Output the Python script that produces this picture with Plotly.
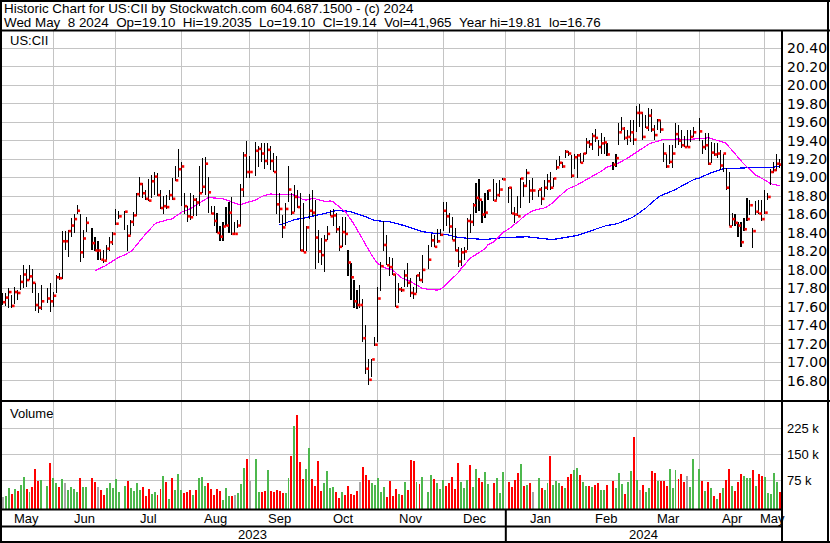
import plotly.graph_objects as go
import pandas as pd

# ------------------------------------------------------------------ data
FIRST_DAY, LAST_DAY = "2023-05-09", "2024-05-08"
HOLIDAYS = ["2023-05-29", "2023-06-19", "2023-07-04", "2023-09-04", "2023-11-23",
            "2023-12-25", "2024-01-01", "2024-01-15", "2024-02-19", "2024-03-29"]

highs = [
    # May 2023
    17.75, 17.75, 17.80, 17.73, 17.82, 17.78, 17.95, 18.05, 18.01, 18.05, 18.01, 17.86, 17.75, 17.84, 17.80, 17.86,
    # Jun
    17.76, 17.95, 17.97, 18.42, 18.42, 18.43, 18.56, 18.61, 18.70, 18.60, 18.43, 18.57, 18.45, 18.36, 18.31, 18.22,
    18.22, 18.27, 18.36, 18.41, 18.66,
    # Jul
    18.64, 18.64, 18.49, 18.54, 18.63, 18.83, 19.01, 18.94, 18.87, 18.98, 19.03, 19.06, 19.05, 18.87, 18.80, 18.81,
    18.87, 19.00, 19.12, 19.31,
    # Aug
    19.17, 18.83, 18.69, 18.83, 18.81, 18.78, 19.12, 19.21, 19.22, 19.01, 18.69, 18.69, 18.62, 18.47, 18.52, 18.68,
    18.74, 18.79, 18.52, 18.54, 18.93, 19.28, 19.40,
    # Sep
    19.23, 19.38, 19.34, 19.37, 19.37, 19.37, 19.34, 19.27, 19.23, 18.83, 18.59, 18.72, 19.12, 18.83, 18.92, 18.87,
    18.83, 18.72, 18.47, 18.82,
    # Oct
    18.87, 18.76, 18.43, 18.34, 18.38, 18.48, 18.65, 18.66, 18.62, 18.47, 18.57, 18.57, 18.22, 18.07, 17.89, 17.78,
    17.84, 17.69, 17.40, 17.04, 17.04, 17.27,
    # Nov
    17.82, 18.09, 18.53, 18.38, 18.14, 18.13, 17.96, 17.86, 17.82, 18.00, 18.07, 17.91, 17.82, 17.95, 17.98, 18.16,
    18.27, 18.39, 18.38, 18.44, 18.44,
    # Dec
    18.73, 18.73, 18.62, 18.57, 18.45, 18.25, 18.24, 18.25, 18.56, 18.60, 18.72, 18.94, 18.98, 18.75, 18.83, 18.87,
    18.98, 18.94, 18.97, 18.99,
    # Jan 2024
    18.90, 18.90, 18.68, 18.80, 19.00, 18.95, 19.09, 18.97, 18.99, 18.87, 18.90, 18.97, 19.04, 19.06, 18.99, 19.19,
    19.23, 19.17, 19.30, 19.29, 19.24,
    # Feb
    19.25, 19.26, 19.27, 19.27, 19.43, 19.41, 19.48, 19.53, 19.41, 19.48, 19.44, 19.37, 19.17, 19.25, 19.59, 19.66,
    19.55, 19.52, 19.62, 19.62,
    # Mar
    19.77, 19.80, 19.71, 19.68, 19.75, 19.74, 19.57, 19.63, 19.62, 19.37, 19.26, 19.35, 19.35, 19.59, 19.57, 19.51,
    19.45, 19.51, 19.51, 19.55,
    # Apr
    19.65, 19.41, 19.48, 19.48, 19.39, 19.37, 19.37, 19.30, 19.26, 19.10, 19.06, 18.62, 18.60, 18.52, 18.52, 18.56,
    18.78, 18.76, 18.45, 18.75, 18.76, 18.76,
    # May 2024
    18.87, 18.83, 19.09, 19.17, 19.25, 19.2035,
]

lows = [
    17.62, 17.61, 17.59, 17.59, 17.63, 17.67, 17.78, 17.80, 17.81, 17.89, 17.75, 17.55, 17.53, 17.57, 17.64, 17.54,
    17.60, 17.75, 17.89, 17.90, 18.22, 18.14, 18.36, 18.40, 18.60, 18.09, 18.13, 18.41, 18.22, 18.21, 18.11, 18.11,
    18.07, 18.11, 18.20, 18.27, 18.49,
    18.55, 18.43, 18.20, 18.38, 18.47, 18.58, 18.79, 18.78, 18.76, 18.75, 18.78, 18.81, 18.80, 18.66, 18.60, 18.66,
    18.76, 18.76, 18.96, 19.01,
    18.69, 18.60, 18.52, 18.54, 18.58, 18.58, 18.69, 18.83, 18.81, 18.62, 18.60, 18.47, 18.40, 18.31, 18.31, 18.47,
    18.40, 18.38, 18.38, 18.45, 18.47, 18.79, 19.00,
    19.00, 19.02, 19.11, 19.17, 19.09, 19.14, 19.08, 19.06, 18.61, 18.51, 18.35, 18.47, 18.74, 18.59, 18.63, 18.67,
    18.20, 18.19, 18.20, 18.55,
    18.58, 18.01, 18.07, 18.05, 17.98, 18.32, 18.58, 18.47, 18.40, 18.20, 18.25, 18.27, 17.93, 17.67, 17.59, 17.58,
    17.59, 17.22, 16.87, 16.75, 16.84, 17.18,
    17.22, 17.77, 18.20, 18.05, 17.93, 17.95, 17.60, 17.64, 17.76, 17.82, 17.82, 17.71, 17.69, 17.75, 17.88, 17.86,
    18.01, 18.25, 18.25, 18.29, 18.37,
    18.42, 18.47, 18.40, 18.32, 18.21, 18.03, 18.04, 18.11, 18.22, 18.40, 18.47, 18.62, 18.64, 18.51, 18.56, 18.76,
    18.75, 18.76, 18.79, 18.97,
    18.72, 18.61, 18.51, 18.58, 18.67, 18.79, 18.90, 18.72, 18.76, 18.79, 18.70, 18.79, 18.87, 18.87, 18.90, 19.08,
    19.12, 19.10, 19.21, 19.23, 18.99,
    19.09, 18.99, 19.16, 19.17, 19.25, 19.32, 19.30, 19.38, 19.23, 19.25, 19.25, 19.23, 19.08, 19.11, 19.35, 19.50,
    19.41, 19.35, 19.39, 19.35,
    19.49, 19.55, 19.41, 19.54, 19.50, 19.49, 19.41, 19.52, 19.48, 19.17, 19.10, 19.15, 19.10, 19.32, 19.35, 19.32,
    19.33, 19.33, 19.39, 19.44,
    19.40, 19.25, 19.30, 19.14, 19.16, 19.23, 19.21, 19.08, 19.06, 18.86, 18.47, 18.47, 18.48, 18.36, 18.25, 18.42,
    18.53, 18.59, 18.24, 18.59, 18.61, 18.53,
    18.61, 18.76, 18.92, 19.05, 19.07, 19.10,
]

closes = [
    17.65, 17.70, 17.76, 17.61, 17.76, 17.75, 17.87, 17.95, 17.89, 17.93, 17.86, 17.62, 17.59, 17.66, 17.69, 17.66,
    17.72, 17.92, 17.91, 18.31, 18.31, 18.42, 18.48, 18.55, 18.64, 18.19, 18.34, 18.51, 18.29, 18.21, 18.21, 18.11,
    18.10, 18.23, 18.30, 18.39, 18.50,
    18.58, 18.63, 18.37, 18.52, 18.59, 18.82, 18.93, 18.83, 18.77, 18.75, 18.96, 19.01, 18.81, 18.67, 18.69, 18.68,
    18.81, 18.77, 18.97, 19.09,
    19.12, 18.69, 18.58, 18.57, 18.76, 18.73, 18.83, 18.90, 19.15, 18.84, 18.61, 18.53, 18.40, 18.36, 18.47, 18.48,
    18.62, 18.39, 18.39, 18.48, 18.87, 19.24, 19.06,
    19.06, 19.29, 19.31, 19.26, 19.18, 19.30, 19.18, 19.06, 18.71, 18.66, 18.46, 18.66, 18.87, 18.62, 18.79, 18.68,
    18.21, 18.19, 18.46, 18.64,
    18.62, 18.35, 18.20, 18.16, 18.32, 18.39, 18.58, 18.59, 18.44, 18.25, 18.41, 18.39, 18.08, 17.92, 17.66, 17.62,
    17.62, 17.26, 16.93, 16.81, 17.03, 17.19,
    17.69, 18.04, 18.27, 18.05, 18.03, 17.95, 17.60, 17.79, 17.78, 17.94, 17.86, 17.75, 17.74, 17.94, 17.89, 18.00,
    18.11, 18.32, 18.25, 18.31, 18.38,
    18.64, 18.58, 18.47, 18.32, 18.21, 18.09, 18.19, 18.20, 18.53, 18.52, 18.70, 18.78, 18.76, 18.60, 18.62, 18.86,
    18.75, 18.81, 18.87, 18.98,
    18.89, 18.61, 18.60, 18.58, 18.99, 18.91, 19.05, 18.86, 18.86, 18.87, 18.77, 18.89, 18.96, 18.89, 18.99, 19.11,
    19.16, 19.12, 19.28, 19.26, 19.02,
    19.22, 19.24, 19.16, 19.26, 19.38, 19.36, 19.45, 19.43, 19.33, 19.37, 19.38, 19.25, 19.14, 19.21, 19.49, 19.53,
    19.43, 19.44, 19.49, 19.41,
    19.70, 19.70, 19.44, 19.54, 19.67, 19.52, 19.46, 19.62, 19.52, 19.26, 19.12, 19.17, 19.26, 19.47, 19.40, 19.35,
    19.33, 19.33, 19.44, 19.49,
    19.50, 19.33, 19.35, 19.15, 19.27, 19.25, 19.26, 19.13, 19.26, 18.89, 18.47, 18.55, 18.51, 18.48, 18.30, 18.44,
    18.55, 18.70, 18.42, 18.63, 18.61, 18.55,
    18.62, 18.79, 19.06, 19.08, 19.15, 19.14,
]

volumes = [
    # May 2023
    28000, 30000, 53000, 36000, 50000, 45000, 62000, 85000, 50000, 42000, 56000, 108000, 73000, 76000, 59000, 125000,
    # Jun
    82000, 67000, 56000, 79000, 67000, 47000, 56000, 50000, 41000, 82000, 56000, 56000, 82000, 70000, 56000, 47000,
    33000, 53000, 67000, 53000, 79000,
    # Jul
    41000, 59000, 73000, 53000, 44000, 67000, 47000, 56000, 30000, 50000, 36000, 41000, 33000, 50000, 87000, 70000,
    21000, 82000, 47000, 93000,
    # Aug
    47000, 38000, 42000, 47000, 33000, 47000, 82000, 85000, 60000, 67000, 50000, 33000, 50000, 45000, 18000, 53000,
    30000, 30000, 33000, 37000, 64000, 110000, 137000,
    # Sep
    73000, 137000, 41000, 41000, 44000, 105000, 45000, 40000, 47000, 44000, 38000, 38000, 82000, 146000, 232000,
    263000, 129000, 79000, 108000, 168000,
    # Oct
    79000, 59000, 131000, 44000, 67000, 102000, 53000, 56000, 41000, 24000, 41000, 33000, 59000, 36000, 33000, 44000,
    70000, 113000, 90000, 75000, 67000, 62000,
    # Nov
    82000, 41000, 56000, 27000, 73000, 30000, 50000, 36000, 33000, 70000, 47000, 134000, 131000, 70000, 64000, 85000,
    41000, 90000, 79000, 67000, 50000,
    # Dec
    76000, 59000, 67000, 85000, 50000, 125000, 70000, 53000, 76000, 119000, 56000, 108000, 82000, 70000, 99000, 64000,
    67000, 82000, 38000, 99000,
    # Jan 2024
    70000, 56000, 76000, 96000, 122000, 59000, 62000, 67000, 41000, 82000, 53000, 47000, 67000, 145000, 62000, 73000,
    67000, 59000, 53000, 85000, 93000,
    # Feb
    105000, 111000, 90000, 70000, 59000, 59000, 56000, 62000, 67000, 47000, 47000, 62000, 73000, 53000, 96000, 64000,
    36000, 70000, 102000, 200000,
    # Mar
    76000, 47000, 62000, 41000, 53000, 102000, 96000, 73000, 73000, 73000, 60000, 108000, 53000, 105000, 79000, 93000,
    70000, 87000, 56000, 137000,
    # Apr
    108000, 73000, 44000, 71000, 53000, 30000, 21000, 38000, 53000, 76000, 108000, 59000, 44000, 70000, 93000, 87000,
    82000, 82000, 105000, 60000, 93000, 87000,
    # May 2024
    85000, 38000, 36000, 96000, 70000, 41965,
]

MONTH_LABELS = ["May", "Jun", "Jul", "Aug", "Sep", "Oct", "Nov", "Dec", "Jan", "Feb", "Mar", "Apr", "May"]
MONTH_STARTS = ["2023-06-01", "2023-07-01", "2023-08-01", "2023-09-01", "2023-10-01", "2023-11-01",
                "2023-12-01", "2024-01-01", "2024-02-01", "2024-03-01", "2024-04-01", "2024-05-01"]
YEAR_LABELS = ["2023", "2024"]
PRICE_TICKS = [16.8, 17.0, 17.2, 17.4, 17.6, 17.8, 18.0, 18.2, 18.4, 18.6, 18.8, 19.0, 19.2, 19.4, 19.6,
               19.8, 20.0, 20.2, 20.4]
VOL_TICKS = [75000, 150000, 225000]
VOL_TICK_TEXT = ["75 k", "150 k", "225 k"]

TITLE_1 = "Historic Chart for US:CII by Stockwatch.com 604.687.1500 - (c) 2024"
TITLE_2 = "Wed May  8 2024  Op=19.10  Hi=19.2035  Lo=19.10  Cl=19.14  Vol=41,965  Year hi=19.81  lo=16.76"

# ------------------------------------------------------------------ layout constants
W, H = 830, 543
PX_PER_SLOT = 2.977
FIRST_SLOT_PX = 2.7
PLOT_RIGHT_PX = 781.0
X_LO = (0 - FIRST_SLOT_PX) / PX_PER_SLOT
X_HI = (PLOT_RIGHT_PX - FIRST_SLOT_PX) / PX_PER_SLOT
PRICE_RANGE = [16.591, 20.587]
VOL_RANGE = [-7790, 303750]
GRID = "#c4c4c4"
GREEN, RED, GREY = "#4db84d", "#ff0000", "#a6a6a6"
ARIAL = "Liberation Sans, Arial, sans-serif"
WIDEFONT = "DejaVu Sans, Verdana, sans-serif"


def fx(px):
    return px / W


def fy(py):
    return 1 - py / H


# ------------------------------------------------------------------ calendar / slots
weekdays = pd.bdate_range(FIRST_DAY, LAST_DAY)
hol = pd.to_datetime(HOLIDAYS)
trade_days = weekdays[~weekdays.isin(hol)]
n = min(len(trade_days), len(closes), len(highs), len(lows), len(volumes))
trade_days = trade_days[:n]
slots = list(weekdays.get_indexer(trade_days))
highs, lows, closes, volumes = highs[:n], lows[:n], closes[:n], volumes[:n]

grid_slots = [int(weekdays.searchsorted(pd.Timestamp(m), side="right") - 1) for m in MONTH_STARTS]
bounds = [X_LO] + grid_slots + [X_HI]
month_centres = [(a + b) / 2 for a, b in zip(bounds[:-1], bounds[1:])]
jan_slot = grid_slots[MONTH_STARTS.index("2024-01-01")]
year_centres = [(X_LO + jan_slot) / 2, (jan_slot + X_HI) / 2]

# ------------------------------------------------------------------ derived series
cs = pd.Series(closes, dtype=float)
ma30 = cs.rolling(30).mean()
ma90 = cs.rolling(90).mean()

vol_colors = []
for i, c in enumerate(closes):
    if i == 0 or c == closes[i - 1]:
        vol_colors.append(GREY)
    elif c > closes[i - 1]:
        vol_colors.append(GREEN)
    else:
        vol_colors.append(RED)

hl_x, hl_y = [], []
for s, h, l in zip(slots, highs, lows):
    hl_x += [s, s, None]
    hl_y += [l, h, None]

fig = go.Figure()

fig.add_trace(go.Bar(
    x=slots, y=[v - VOL_RANGE[0] for v in volumes], base=VOL_RANGE[0], width=0.66,
    marker=dict(color=vol_colors, line=dict(width=0)), xaxis="x2", yaxis="y2",
))
fig.add_trace(go.Scatter(x=slots, y=ma90, mode="lines", line=dict(color="#0000ff", width=1.2)))
fig.add_trace(go.Scatter(x=slots, y=ma30, mode="lines", line=dict(color="#ff00ff", width=1.2)))
fig.add_trace(go.Scatter(x=hl_x, y=hl_y, mode="lines", line=dict(color="#000000", width=1.1)))
fig.add_trace(go.Scatter(x=[s + 0.55 for s in slots], y=closes, mode="markers",
                         marker=dict(symbol="square", size=2.6, color="#ff0000", line=dict(width=0))))

price_dom = [fy(400), fy(31)]
vol_dom = [fy(509), fy(401)]

common_x = dict(range=[X_LO, X_HI], domain=[0, fx(PLOT_RIGHT_PX)], tickvals=grid_slots,
                showticklabels=False, showgrid=True, gridcolor=GRID, gridwidth=1, zeroline=False,
                ticks="", showline=False, fixedrange=True)

fig.update_layout(
    width=W, height=H, margin=dict(l=0, r=0, t=0, b=0, autoexpand=False),
    paper_bgcolor="white", plot_bgcolor="white", showlegend=False, bargap=0,
    xaxis=dict(anchor="y", **common_x),
    xaxis2=dict(anchor="y2", **common_x),
    yaxis=dict(domain=price_dom, range=PRICE_RANGE, side="right", anchor="x",
               tickvals=PRICE_TICKS, ticktext=[f"{t:.2f}" for t in PRICE_TICKS],
               showgrid=True, gridcolor=GRID, gridwidth=1, zeroline=False, ticks="",
               tickfont=dict(family=WIDEFONT, size=14, color="black"), ticklabelstandoff=5,
               automargin=False, fixedrange=True),
    yaxis2=dict(domain=vol_dom, range=VOL_RANGE, side="right", anchor="x2",
                tickvals=VOL_TICKS, ticktext=VOL_TICK_TEXT,
                showgrid=True, gridcolor=GRID, gridwidth=1, zeroline=False, ticks="",
                tickfont=dict(family=ARIAL, size=13, color="black"), ticklabelstandoff=5,
                automargin=False, fixedrange=True),
)

ann = []
ann.append(dict(text=TITLE_1, x=fx(2), y=fy(8.5), xref="paper", yref="paper", xanchor="left",
                yanchor="middle", showarrow=False, font=dict(family=ARIAL, size=13.4, color="black")))
ann.append(dict(text=TITLE_2.replace("  ", " \u00a0"), x=fx(2), y=fy(22), xref="paper", yref="paper",
                xanchor="left", yanchor="middle", showarrow=False,
                font=dict(family=ARIAL, size=13.4, color="black")))
ann.append(dict(text="US:CII", x=fx(8), y=fy(40.5), xref="paper", yref="paper", xanchor="left",
                yanchor="middle", showarrow=False, font=dict(family=ARIAL, size=13, color="black")))
ann.append(dict(text="Volume", x=fx(8), y=fy(413.5), xref="paper", yref="paper", xanchor="left",
                yanchor="middle", showarrow=False, font=dict(family=ARIAL, size=13, color="black")))
for lab, xc in zip(MONTH_LABELS, month_centres):
    ann.append(dict(text=lab, x=xc, y=fy(518), xref="x", yref="paper", xanchor="center",
                    yanchor="middle", showarrow=False, font=dict(family=ARIAL, size=13, color="black")))
for lab, xc in zip(YEAR_LABELS, year_centres):
    ann.append(dict(text=lab, x=xc, y=fy(534.5), xref="x", yref="paper", xanchor="center",
                    yanchor="middle", showarrow=False, font=dict(family=ARIAL, size=13, color="black")))
fig.update_layout(annotations=ann)

shapes = []


def line(x0, y0, x1, y1, w=2, xref="paper"):
    shapes.append(dict(type="line", xref=xref, yref="paper", x0=x0, y0=y0, x1=x1, y1=y1,
                       line=dict(color="black", width=w), layer="above"))


line(fx(0), fy(1), fx(W), fy(1))            # top frame
line(fx(0), fy(542), fx(W), fy(542))        # bottom frame
line(fx(1), fy(0), fx(1), fy(H))            # left frame
line(fx(828), fy(0), fx(828), fy(H))        # right frame
line(fx(0), fy(30.5), fx(W), fy(30.5))      # header rule
line(fx(0), fy(401), fx(W), fy(401))        # price / volume divider
line(fx(0), fy(509.5), fx(782), fy(509.5))  # below volume
line(fx(0), fy(526.5), fx(782), fy(526.5))  # month / year divider
line(fx(782), fy(30.5), fx(782), fy(H))     # right axis column border
line(jan_slot, fy(509.5), jan_slot, fy(542), w=2, xref="x")  # year separator
fig.update_layout(shapes=shapes)

POST = (
    "document.body.style.margin='0px';"
    "document.body.style.overflow='hidden';"
    "document.querySelectorAll('.scatterlayer path.js-line').forEach(function(p){"
    "p.setAttribute('shape-rendering','crispEdges');});"
)
fig.write_html("out.html", config={"displayModeBar": False, "staticPlot": True}, post_script=POST)
